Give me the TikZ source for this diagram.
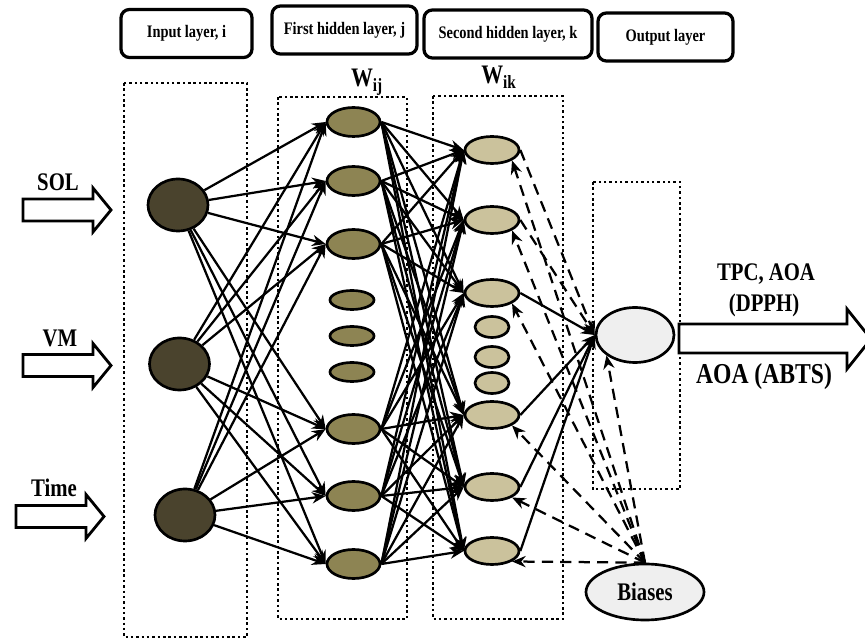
\documentclass[tikz,border=0pt]{standalone}
\usepackage{fontspec}
\setmainfont{Liberation Serif}[FakeStretch=0.82]
\usepackage{tikz}
\usetikzlibrary{arrows.meta,shapes.geometric}
\definecolor{darkOlive}{HTML}{4A432D}
\definecolor{midOlive}{HTML}{8D8453}
\definecolor{lightOlive}{HTML}{CBC29C}
\definecolor{lightGray}{HTML}{EFEFEF}
\begin{document}
\begin{tikzpicture}[x=0.25mm, y=-0.25mm, every node/.style={font=\bfseries},
  titlebox/.style={draw, line width=2.3pt, rounded corners=6pt, minimum height=12mm, inner sep=0pt, font=\bfseries\fontsize{12.5}{14}\selectfont},
  layerbox/.style={dotted, line width=1.8pt},
  inode/.style={ellipse, draw, line width=1.9pt, fill=darkOlive, minimum width=15mm, minimum height=13mm, inner sep=0pt},
  hnode/.style={ellipse, draw, line width=1.9pt, fill=midOlive, minimum width=13.25mm, minimum height=7.25mm, inner sep=0pt},
  hdot/.style={hnode, minimum width=11mm, minimum height=4.75mm},
  knode/.style={ellipse, draw, line width=1.9pt, fill=lightOlive, minimum width=13.5mm, minimum height=6.75mm, inner sep=0pt},
  kdot/.style={knode, minimum width=8.5mm, minimum height=5.25mm},
  wire/.style={-{Stealth[length=3.4mm,width=2.8mm]}, line width=1.6pt},
  biasline/.style={wire, dash pattern=on 2.8mm off 1.8mm},
  blockarrow/.style={draw, line width=2pt, fill=white, line join=miter},
  biglabel/.style={font=\bfseries\fontsize{18}{21}\selectfont}]
\useasboundingbox (0,0) rectangle (865,639);
% layer titles
\node[titlebox, minimum width=32.75mm] (tin) at (186.5,33.5) {Input layer, i};
\node[titlebox, minimum width=36.25mm] (thid1) at (344.5,30) {First hidden layer, j};
\node[titlebox, minimum width=42mm] (thid2) at (508,34) {Second hidden layer, k};
\node[titlebox, minimum width=33.75mm] (tout) at (665.5,37) {Output layer};
\node[font=\bfseries\fontsize{19}{21}\selectfont] (wij) at (367,82) {W\textsubscript{ij}};
\node[font=\bfseries\fontsize{19}{21}\selectfont] (wik) at (499,77) {W\textsubscript{ik}};
% dotted layer frames
\draw[layerbox] (124,83) rectangle (247,637);
\draw[layerbox] (278,97) rectangle (407,619);
\draw[layerbox] (433,96) rectangle (563,619);
\draw[layerbox] (593,182) rectangle (680,489);
% input layer
\node[inode] (i1) at (178,205) {};
\node[inode] (i2) at (179.5,364) {};
\node[inode] (i3) at (185,515) {};
\foreach \x/\y in {23/210, 23/365.5, 16/516.5}
  \draw[blockarrow] (\x,\y) ++(0,-11) -- ++(70,0) -- ++(0,-11) -- ++(18,22) -- ++(-18,22) -- ++(0,-11) -- ++(-70,0) -- cycle;
\node[biglabel] (lsol) at (58,182) {SOL};
\node[biglabel] (lvm) at (60,338) {VM};
\node[biglabel] (ltime) at (54,488) {Time};
% first hidden layer
\foreach \n/\y in {1/122, 2/181, 3/244, 4/429, 5/496, 6/564}
  \node[hnode] (h\n) at (353.5,\y) {};
\foreach \n/\y in {1/300, 2/336, 3/372}
  \node[hdot] (hd\n) at (352,\y) {};
% second hidden layer
\foreach \n/\y in {1/150, 2/220, 3/293, 4/415, 5/487, 6/551}
  \node[knode] (k\n) at (492,\y) {};
\foreach \n/\y in {1/327, 2/357, 3/383}
  \node[kdot] (kd\n) at (492,\y) {};
% output and biases
\node[ellipse, draw, line width=1.9pt, fill=lightGray, minimum width=19.5mm, minimum height=13.75mm, inner sep=0pt] (out) at (635,335) {};
\node[ellipse, draw, line width=1.9pt, fill=lightGray, minimum width=29.5mm, minimum height=14mm, inner sep=0pt, biglabel] (bias) at (645,592) {Biases};
\draw[blockarrow] (679,324) -- (847,324) -- (847,309) -- (871,339) -- (847,369) -- (847,353) -- (679,353) -- cycle;
\node[biglabel] (ltpc) at (766,274) {TPC, AOA};
\node[biglabel] (ldpph) at (764,305) {(DPPH)};
\node[font=\bfseries\fontsize{20.5}{23}\selectfont] (labts) at (764,377) {AOA (ABTS)};
% weights
\foreach \a in {1,2,3}
  \foreach \b in {1,...,6}
    \draw[wire] (i\a) -- (h\b.west);
\foreach \a in {1,...,6}
  \foreach \b in {1,...,6}
    \draw[wire] (h\a.east) -- (k\b.west);
\foreach \b in {3,...,6}
  \draw[wire] (k\b.east) -- (out.west);
\foreach \b in {1,2}
  \draw[biasline] (k\b.east) -- (out.west);
\foreach \b in {1,...,6}
  \draw[biasline] (bias.north) -- (k\b.south east);
\draw[biasline] (bias.north) -- (out.south west);
\end{tikzpicture}
\end{document}
